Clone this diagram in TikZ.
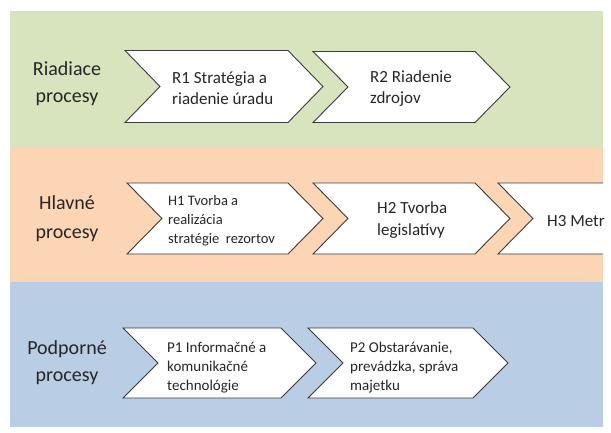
\documentclass[tikz,border=0pt]{standalone}
\usepackage{fontspec}
\setmainfont{Carlito}
\definecolor{bgreen}{HTML}{D7E4BD}
\definecolor{borange}{HTML}{FCD5B5}
\definecolor{bblue}{HTML}{B9CDE5}
\definecolor{txtc}{HTML}{262626}
\definecolor{edgec}{HTML}{3A3A3A}
\newcommand{\mychev}[4]{% left, top, bottom, width-to-tip
  \draw[chevline] ({#1},{#2}) -- ({#1+#4-35},{#2}) -- ({#1+#4},{(#2+#3)/2})
     -- ({#1+#4-35},{#3}) -- ({#1},{#3}) -- ({#1+35},{(#2+#3)/2}) -- cycle;}
\tikzset{
  band/.style={draw=none},
  chevline/.style={draw=edgec, fill=white, line width=0.9pt, line join=miter},
  lbl/.style={text=txtc, align=center, inner sep=0pt, font=\fontsize{20}{27}\selectfont},
  ctext/.style={text=txtc, align=left, anchor=west, inner sep=0pt},
  big/.style={font=\fontsize{17}{21}\selectfont},
  small/.style={font=\fontsize{14.5}{19}\selectfont},
  mid/.style={font=\fontsize{15}{19}\selectfont}
}
\begin{document}
\begin{tikzpicture}[x=1pt,y=-1pt]
\useasboundingbox (0,0) rectangle (611,433);
% bands
\fill[bgreen]  (10,11)  rectangle (603,147);
\fill[borange] (10,147) rectangle (603,282);
\fill[bblue]   (10,282) rectangle (603,427);
% row labels
\node[lbl] (lR) at (67,84) {Riadiace\\procesy};
\node[lbl,font=\fontsize{20}{28.5}\selectfont] (lH) at (67,218.5) {Hlavné\\procesy};
\node[lbl] (lP) at (67,363) {Podporné\\procesy};
% R row
\mychev{125}{50.5}{122.5}{198}
\mychev{313}{51.5}{122.5}{197}
\node[ctext,big] (R1) at (172,88.5) {R1 Stratégia a\\riadenie úradu};
\node[ctext,big] (R2) at (370,89) {R2 Riadenie\\zdrojov};
% H row
\mychev{127}{183}{254}{196}
\mychev{313}{183}{254}{197}
\begin{scope}
  \clip (10,147) rectangle (603,282);
  \mychev{498}{183}{254}{197}
\end{scope}
\node[ctext,small] (H1) at (168,221) {H1 Tvorba a\\realizácia\\stratégie\ \ rezortov};
\node[ctext,big,font=\fontsize{17}{22}\selectfont] (H2) at (377,220) {H2 Tvorba\\legislatívy};
\node[ctext,big] (H3) at (547,221) {H3 Metr};
% P row
\mychev{123}{328}{398}{193}
\mychev{308}{328}{398}{200}
\node[ctext,mid] (P1) at (167,368) {P1 Informačné a\\komunikačné\\technológie};
\node[ctext,mid] (P2) at (350,368) {P2 Obstarávanie,\\prevádzka, správa\\majetku};
\end{tikzpicture}
\end{document}
